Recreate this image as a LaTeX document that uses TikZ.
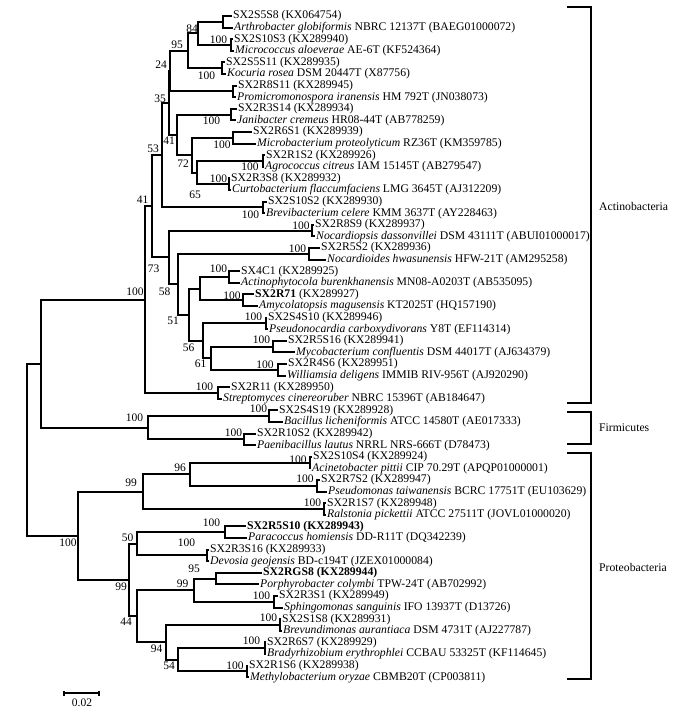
\documentclass[tikz,border=0pt]{standalone}
\usepackage{fontspec}
\setmainfont{Liberation Serif}
\usepackage{tikz}

\begin{document}
\begin{tikzpicture}[
		x=1pt, y=-1pt,
		br/.style={line width=1.9pt},
		clade/.style={line width=1.4pt},
		tx/.style={anchor=west,inner sep=1pt,font=\fontsize{11.7}{12}\selectfont},
		bs/.style={inner sep=0pt,font=\fontsize{11.5}{12}\selectfont}]
	\useasboundingbox (0,0) rectangle (689,720);
	%% define leaves
	\node[tx] (s0) at (232,16) {SX2S5S8 (KX064754)};
	\node[tx] (s1) at (233,27.6) {\textit{Arthrobacter globiformis} NBRC 12137T (BAEG01000072)};
	\node[tx] (s2) at (233,39.2) {SX2S10S3 (KX289940)};
	\node[tx] (s3) at (234,50.8) {\textit{Micrococcus aloeverae} AE-6T (KF524364)};
	\node[tx] (s4) at (225,62.4) {SX2S5S11 (KX289935)};
	\node[tx] (s5) at (226,74) {\textit{Kocuria rosea} DSM 20447T (X87756)};
	\node[tx] (s6) at (237,85.6) {SX2R8S11 (KX289945)};
	\node[tx] (s7) at (236,97.2) {\textit{Promicromonospora iranensis} HM 792T (JN038073)};
	\node[tx] (s8) at (237,108.8) {SX2R3S14 (KX289934)};
	\node[tx] (s9) at (236,120.4) {\textit{Janibacter cremeus} HR08-44T (AB778259)};
	\node[tx] (s10) at (252,132) {SX2R6S1 (KX289939)};
	\node[tx] (s11) at (256,143.6) {\textit{Microbacterium proteolyticum} RZ36T (KM359785)};
	\node[tx] (s12) at (265,155.2) {SX2R1S2 (KX289926)};
	\node[tx] (s13) at (264,166.8) {\textit{Agrococcus citreus} IAM 15145T (AB279547)};
	\node[tx] (s14) at (230,178.4) {SX2R3S8 (KX289932)};
	\node[tx] (s15) at (231,190) {\textit{Curtobacterium flaccumfaciens} LMG 3645T (AJ312209)};
	\node[tx] (s16) at (267,201.6) {SX2S10S2 (KX289930)};
	\node[tx] (s17) at (265,213.2) {\textit{Brevibacterium celere} KMM 3637T (AY228463)};
	\node[tx] (s18) at (314,224.8) {SX2R8S9 (KX289937)};
	\node[tx] (s19) at (315,236.4) {\textit{Nocardiopsis dassonvillei} DSM 43111T (ABUI01000017)};
	\node[tx] (s20) at (320,248) {SX2R5S2 (KX289936)};
	\node[tx] (s21) at (326,259.6) {\textit{Nocardioides hwasunensis} HFW-21T (AM295258)};
	\node[tx] (s22) at (240,271.2) {SX4C1 (KX289925)};
	\node[tx] (s23) at (240,282.8) {\textit{Actinophytocola burenkhanensis} MN08-A0203T (AB535095)};
	\node[tx] (s24) at (254,294.4) {\textbf{SX2R71} (KX289927)};
	\node[tx] (s25) at (258,306) {\textit{Amycolatopsis magusensis} KT2025T (HQ157190)};
	\node[tx] (s26) at (267,317.6) {SX2S4S10 (KX289946)};
	\node[tx] (s27) at (268,329.2) {\textit{Pseudonocardia carboxydivorans} Y8T (EF114314)};
	\node[tx] (s28) at (287,340.8) {SX2R5S16 (KX289941)};
	\node[tx] (s29) at (295,352.4) {\textit{Mycobacterium confluentis} DSM 44017T (AJ634379)};
	\node[tx] (s30) at (287,364) {SX2R4S6 (KX289951)};
	\node[tx] (s31) at (286,375.6) {\textit{Williamsia deligens} IMMIB RIV-956T (AJ920290)};
	\node[tx] (s32) at (230,387.2) {SX2R11 (KX289950)};
	\node[tx] (s33) at (222,398.8) {\textit{Streptomyces cinereoruber} NBRC 15396T (AB184647)};
	\node[tx] (s34) at (278,410.4) {SX2S4S19 (KX289928)};
	\node[tx] (s35) at (283,422) {\textit{Bacillus licheniformis} ATCC 14580T (AE017333)};
	\node[tx] (s36) at (256,433.6) {SX2R10S2 (KX289942)};
	\node[tx] (s37) at (256,445.2) {\textit{Paenibacillus lautus} NRRL NRS-666T (D78473)};
	\node[tx] (s38) at (312,456.8) {SX2S10S4 (KX289924)};
	\node[tx] (s39) at (311,468.4) {\textit{Acinetobacter pittii} CIP 70.29T (APQP01000001)};
	\node[tx] (s40) at (320,480) {SX2R7S2 (KX289947)};
	\node[tx] (s41) at (327,491.6) {\textit{Pseudomonas taiwanensis} BCRC 17751T (EU103629)};
	\node[tx] (s42) at (326,503.2) {SX2R1S7 (KX289948)};
	\node[tx] (s43) at (326,514.8) {\textit{Ralstonia pickettii} ATCC 27511T (JOVL01000020)};
	\node[tx] (s44) at (246,526.4) {\textbf{SX2R5S10 (KX289943)}};
	\node[tx] (s45) at (247,538) {\textit{Paracoccus homiensis} DD-R11T (DQ342239)};
	\node[tx] (s46) at (209,549.6) {SX2R3S16 (KX289933)};
	\node[tx] (s47) at (209,561.2) {\textit{Devosia geojensis} BD-c194T (JZEX01000084)};
	\node[tx] (s48) at (262,572.8) {\textbf{SX2RGS8 (KX289944)}};
	\node[tx] (s49) at (259,584.4) {\textit{Porphyrobacter colymbi} TPW-24T (AB702992)};
	\node[tx] (s50) at (278,596) {SX2R3S1 (KX289949)};
	\node[tx] (s51) at (283,607.6) {\textit{Sphingomonas sanguinis} IFO 13937T (D13726)};
	\node[tx] (s52) at (281,619.2) {SX2S1S8 (KX289931)};
	\node[tx] (s53) at (282,630.8) {\textit{Brevundimonas aurantiaca} DSM 4731T (AJ227787)};
	\node[tx] (s54) at (266,642.4) {SX2R6S7 (KX289929)};
	\node[tx] (s55) at (266,654) {\textit{Bradyrhizobium erythrophlei} CCBAU 53325T (KF114645)};
	\node[tx] (s56) at (248,665.6) {SX2R1S6 (KX289938)};
	\node[tx] (s57) at (249,677.2) {\textit{Methylobacterium oryzae} CBMB20T (CP003811)};
	%% define cherries
	\coordinate (cA) at (223,21.8);
	\coordinate (cB) at (231,45);
	\coordinate (cC) at (222,68.2);
	\coordinate (cD) at (233,91.4);
	\coordinate (cE) at (231,114.6);
	\coordinate (cF) at (233,137.8);
	\coordinate (cG) at (263,161);
	\coordinate (cH) at (229,184.2);
	\coordinate (cI) at (263,207.4);
	\coordinate (cJ) at (312,230.6);
	\coordinate (cK) at (309,253.8);
	\coordinate (cL) at (229,277);
	\coordinate (cM) at (243,300.2);
	\coordinate (cN) at (266,323.4);
	\coordinate (cO) at (273,346.6);
	\coordinate (cP) at (278,369.8);
	\coordinate (cQ) at (218,393);
	\coordinate (cR) at (269,416.2);
	\coordinate (cS) at (244,439.4);
	\coordinate (cT) at (310,462.6);
	\coordinate (cU) at (317,485.8);
	\coordinate (cV) at (324,509);
	\coordinate (cW) at (225,532.2);
	\coordinate (cY) at (207,555.4);
	\coordinate (cBB) at (216,578.6);
	\coordinate (cZ) at (274,601.8);
	\coordinate (cBR) at (280,625);
	\coordinate (cBY) at (265,648.2);
	\coordinate (cMT) at (247,671.4);
	%% define inner nodes
	\coordinate (n84) at (198,33.4);
	\coordinate (n95a) at (188,50.8);
	\coordinate (n24) at (170,71.1);
	\coordinate (n65) at (197,172.6);
	\coordinate (n72) at (192,155.2);
	\coordinate (n41a) at (177,134.9);
	\coordinate (n35) at (169,103);
	\coordinate (n53) at (162,155.2);
	\coordinate (n61) at (211,358.2);
	\coordinate (n56) at (203,340.8);
	\coordinate (nLM) at (200,288.6);
	\coordinate (n51) at (189,314.7);
	\coordinate (n58) at (178,284.2);
	\coordinate (n73) at (169,257.4);
	\coordinate (n41b) at (152,206.3);
	\coordinate (n100a) at (145,299.7);
	\coordinate (n100b) at (148,427.8);
	\coordinate (nAF) at (41,363.7);
	\coordinate (n96) at (190,474.2);
	\coordinate (n99a) at (143,491.6);
	\coordinate (n50) at (137,543.8);
	\coordinate (n99c) at (194,590.2);
	\coordinate (n54) at (178,659.8);
	\coordinate (n94) at (166,642.4);
	\coordinate (n44) at (137,616.3);
	\coordinate (n99b) at (129,580);
	\coordinate (n100c) at (78,535.8);
	\coordinate (root) at (27,449.8);
	%% draw pendant branches
	\foreach \c/\a/\b in {cA/s0/s1, cB/s2/s3, cC/s4/s5, cD/s6/s7, cE/s8/s9, cF/s10/s11,
			cG/s12/s13, cH/s14/s15, cI/s16/s17, cJ/s18/s19, cK/s20/s21, cL/s22/s23,
			cM/s24/s25, cN/s26/s27, cO/s28/s29, cP/s30/s31, cQ/s32/s33, cR/s34/s35,
			cS/s36/s37, cT/s38/s39, cU/s40/s41, cV/s42/s43, cW/s44/s45, cY/s46/s47,
			cBB/s48/s49, cZ/s50/s51, cBR/s52/s53, cBY/s54/s55, cMT/s56/s57}
		\draw[br] (\a.west) -| (\c) |- (\b.west);
	%% draw inner branches
	\foreach \p/\a/\b in {n84/cA/cB, n95a/n84/cC, n24/n95a/cD, n65/cG/cH, n72/cF/n65,
			n41a/cE/n72, n35/n24/n41a, n53/n35/cI, n61/cO/cP, n56/cN/n61, nLM/cL/cM,
			n51/nLM/n56, n58/cK/n51, n73/cJ/n58, n41b/n53/n73, n100a/n41b/cQ,
			n100b/cR/cS, nAF/n100a/n100b, n96/cT/cU, n99a/n96/cV, n50/cW/cY,
			n99c/cBB/cZ, n54/cBY/cMT, n94/cBR/n54, n44/n99c/n94, n99b/n50/n44,
			n100c/n99a/n99b, root/nAF/n100c}
		\draw[br] (\a) -| (\p) |- (\b);
	%% bootstrap values
	\node[bs] (b1) at (192,28.5) {84};
	\node[bs] (b2) at (218.5,39.5) {100};
	\node[bs] (b3) at (177,45) {95};
	\node[bs] (b4) at (206.5,76) {100};
	\node[bs] (b5) at (161,65) {24};
	\node[bs] (b6) at (160,98.5) {35};
	\node[bs] (b7) at (211.5,121) {100};
	\node[bs] (b8) at (169,141) {41};
	\node[bs] (b9) at (222,145) {100};
	\node[bs] (b10) at (183,163.5) {72};
	\node[bs] (b11) at (250,166.5) {100};
	\node[bs] (b12) at (218.5,179) {100};
	\node[bs] (b13) at (195,195) {65};
	\node[bs] (b14) at (153,149) {53};
	\node[bs] (b15) at (250.5,215) {100};
	\node[bs] (b16) at (142.5,200) {41};
	\node[bs] (b17) at (153.5,268.5) {73};
	\node[bs] (b18) at (301,226) {100};
	\node[bs] (b19) at (297.5,249) {100};
	\node[bs] (b20) at (164.5,291.5) {58};
	\node[bs] (b21) at (218.5,269) {100};
	\node[bs] (b22) at (232,296) {100};
	\node[bs] (b23) at (173,321) {51};
	\node[bs] (b24) at (253.5,317) {100};
	\node[bs] (b25) at (188.5,347.5) {56};
	\node[bs] (b26) at (261.5,340) {100};
	\node[bs] (b27) at (200.5,364) {61};
	\node[bs] (b28) at (265,365) {100};
	\node[bs] (b29) at (135,291.5) {100};
	\node[bs] (b30) at (204.5,387) {100};
	\node[bs] (b31) at (134.5,417.5) {100};
	\node[bs] (b32) at (258.5,409) {100};
	\node[bs] (b33) at (233.5,432.5) {100};
	\node[bs] (b34) at (298,460) {100};
	\node[bs] (b35) at (180,467.5) {96};
	\node[bs] (b36) at (305,479) {100};
	\node[bs] (b37) at (131,482.5) {99};
	\node[bs] (b38) at (312.5,502.5) {100};
	\node[bs] (b39) at (68,543) {100};
	\node[bs] (b40) at (127.5,538) {50};
	\node[bs] (b41) at (211.5,523) {100};
	\node[bs] (b42) at (186.5,543) {100};
	\node[bs] (b43) at (194,569) {95};
	\node[bs] (b44) at (182.5,583.5) {99};
	\node[bs] (b45) at (261.5,596) {100};
	\node[bs] (b46) at (121,587) {99};
	\node[bs] (b47) at (126,622) {44};
	\node[bs] (b48) at (268.5,617.5) {100};
	\node[bs] (b49) at (156.5,649) {94};
	\node[bs] (b50) at (251.5,641) {100};
	\node[bs] (b51) at (169,665.5) {54};
	\node[bs] (b52) at (235,665.5) {100};
	%% clades
	\draw[clade] (567,7) -| (591,403) -- (567,403);
	\draw[clade] (567,412) -| (591,444) -- (567,444);
	\draw[clade] (567,453) -| (591,679) -- (567,679);
	\node[tx] (actino) at (598,206) {Actinobacteria};
	\node[tx] (firmi) at (598,428) {Firmicutes};
	\node[tx] (proteo) at (598,567) {Proteobacteria};
	%% scale bar
	\coordinate (sbl) at (64,693);
	\coordinate (sbr) at (99,693);
	\draw[br] (sbl) -- (sbr);
	\draw[br] ([yshift=-2.5pt]sbl) -- ([yshift=2.5pt]sbl);
	\draw[br] ([yshift=-2.5pt]sbr) -- ([yshift=2.5pt]sbr);
	\node[bs] (sbt) at (82,703) {0.02};
\end{tikzpicture}
\end{document}
